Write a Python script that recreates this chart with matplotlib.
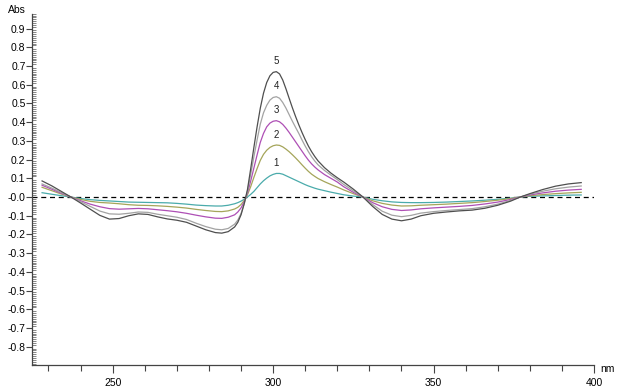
import numpy as np
import matplotlib
matplotlib.use("Agg")
import matplotlib.pyplot as plt
from matplotlib.ticker import MultipleLocator, FormatStrFormatter

plt.rcParams['font.family'] = ['Liberation Sans', 'DejaVu Sans']

# wavelengths (nm)
wl = [228, 231, 234, 237, 240, 243, 246, 249, 252, 255, 258, 261, 264, 267, 270, 273,
      276, 279, 282, 284, 286, 288,
      289, 290, 291, 292, 293, 294, 295, 296, 297, 298, 299, 300, 301, 302, 303, 304,
      305, 306, 307, 308, 309, 310, 311, 312, 313, 314,
      316, 318, 320, 322, 325, 328,
      331, 334, 337, 340, 343, 346,
      350, 354, 358, 362, 366, 370, 374, 377,
      380, 384, 388, 392, 396]

abs1 = [0.023, 0.015, 0.007, 0.000, -0.008, -0.014, -0.018, -0.021, -0.024, -0.027,
        -0.028, -0.029, -0.030, -0.031, -0.034, -0.038, -0.043, -0.046, -0.048, -0.048,
        -0.044, -0.036,
        -0.030, -0.022, -0.012, 0.000, 0.014, 0.030, 0.050, 0.070, 0.087, 0.101, 0.113,
        0.121, 0.126, 0.126, 0.122, 0.114, 0.106, 0.098, 0.090, 0.082, 0.074, 0.066,
        0.059, 0.053, 0.047, 0.042,
        0.034, 0.026, 0.019, 0.012, 0.005, 0.000,
        -0.012, -0.020, -0.026, -0.029, -0.030, -0.030,
        -0.029, -0.027, -0.024, -0.021, -0.017, -0.012, -0.006, 0.000,
        0.004, 0.006, 0.008, 0.010, 0.011]

abs2 = [0.052, 0.034, 0.016, 0.000, -0.013, -0.023, -0.029, -0.032, -0.036, -0.041,
        -0.044, -0.045, -0.047, -0.050, -0.054, -0.059, -0.066, -0.072, -0.077, -0.078,
        -0.074, -0.064,
        -0.055, -0.040, -0.018, 0.012, 0.055, 0.105, 0.152, 0.196, 0.228, 0.250, 0.265,
        0.274, 0.278, 0.276, 0.268, 0.256, 0.242, 0.226, 0.209, 0.191, 0.172, 0.154,
        0.137, 0.122, 0.110, 0.099,
        0.082, 0.067, 0.053, 0.038, 0.018, 0.000,
        -0.020, -0.034, -0.043, -0.048, -0.047, -0.044,
        -0.041, -0.038, -0.034, -0.030, -0.024, -0.017, -0.008, 0.000,
        0.007, 0.013, 0.018, 0.022, 0.025]

abs3 = [0.063, 0.042, 0.020, 0.000, -0.020, -0.038, -0.052, -0.062, -0.065, -0.063,
        -0.061, -0.063, -0.068, -0.073, -0.079, -0.087, -0.097, -0.106, -0.113, -0.114,
        -0.108, -0.095,
        -0.080, -0.058, -0.025, 0.020, 0.085, 0.155, 0.225, 0.292, 0.340, 0.375, 0.395,
        0.405, 0.408, 0.402, 0.388, 0.368, 0.345, 0.320, 0.295, 0.270, 0.245, 0.220,
        0.197, 0.177, 0.160, 0.145,
        0.120, 0.100, 0.080, 0.055, 0.025, 0.000,
        -0.030, -0.052, -0.066, -0.072, -0.069, -0.063,
        -0.058, -0.054, -0.050, -0.045, -0.037, -0.027, -0.013, 0.000,
        0.011, 0.022, 0.031, 0.037, 0.041]

abs4 = [0.070, 0.048, 0.024, 0.000, -0.025, -0.050, -0.075, -0.090, -0.092, -0.087,
        -0.080, -0.082, -0.092, -0.100, -0.108, -0.120, -0.140, -0.158, -0.172, -0.175,
        -0.168, -0.145,
        -0.123, -0.088, -0.035, 0.030, 0.120, 0.215, 0.305, 0.390, 0.450, 0.490, 0.518,
        0.532, 0.536, 0.528, 0.505, 0.475, 0.440, 0.405, 0.372, 0.340, 0.305, 0.272,
        0.242, 0.215, 0.192, 0.172,
        0.142, 0.117, 0.093, 0.067, 0.033, 0.000,
        -0.040, -0.076, -0.097, -0.105, -0.098, -0.086,
        -0.078, -0.072, -0.067, -0.062, -0.052, -0.038, -0.018, 0.000,
        0.015, 0.031, 0.044, 0.053, 0.059]

abs5 = [0.086, 0.060, 0.030, 0.000, -0.032, -0.065, -0.098, -0.118, -0.115, -0.100,
        -0.090, -0.093, -0.106, -0.117, -0.124, -0.135, -0.155, -0.175, -0.190, -0.193,
        -0.185, -0.160,
        -0.135, -0.095, -0.035, 0.040, 0.150, 0.265, 0.375, 0.475, 0.555, 0.612, 0.648,
        0.666, 0.670, 0.658, 0.625, 0.578, 0.527, 0.477, 0.430, 0.386, 0.345, 0.307,
        0.272, 0.242, 0.216, 0.193,
        0.157, 0.128, 0.103, 0.080, 0.042, 0.000,
        -0.050, -0.093, -0.118, -0.127, -0.118, -0.100,
        -0.087, -0.080, -0.074, -0.070, -0.060, -0.044, -0.022, 0.000,
        0.018, 0.040, 0.058, 0.070, 0.077]

series = [abs1, abs2, abs3, abs4, abs5]
labels = ['1', '2', '3', '4', '5']
colors = ['#4aabab', '#a5a55a', '#ae4fb5', '#a3a3a3', '#4f4f4f']

fig = plt.figure(figsize=(6.24, 3.90), dpi=100)
ax = fig.add_axes([0.052, 0.063, 0.900, 0.902])

ax.axhline(0, color='black', lw=0.9, ls=(0, (4, 3)), zorder=1)

for y, lab, c in zip(series, labels, colors):
    ax.plot(wl, y, color=c, lw=0.9, zorder=2, solid_joinstyle='round')
    i = int(np.argmax(y))
    ax.text(wl[i], y[i] + 0.055, lab, ha='center', va='center', fontsize=7, color='#222222')

ax.set_xlim(225, 400)
ax.set_ylim(-0.9, 0.98)

for s in ['top', 'right']:
    ax.spines[s].set_visible(False)
for s in ['left', 'bottom']:
    ax.spines[s].set_color('#444444')
    ax.spines[s].set_linewidth(0.9)

ax.xaxis.set_major_locator(MultipleLocator(50))
ax.xaxis.set_minor_locator(MultipleLocator(10))
ax.yaxis.set_major_locator(MultipleLocator(0.1))
ax.yaxis.set_minor_locator(MultipleLocator(0.01))
ax.yaxis.set_major_formatter(FormatStrFormatter('%.1f'))
ax.set_yticks(np.arange(-0.8, 0.91, 0.1))

ax.tick_params(axis='x', which='major', direction='out', length=6, width=0.8,
               color='#444444', labelsize=7.5, pad=3)
ax.tick_params(axis='x', which='minor', direction='out', length=4, width=0.8, color='#444444')
ax.tick_params(axis='y', which='major', direction='out', length=4, width=0.8,
               color='#444444', labelsize=7.5, pad=1)
ax.tick_params(axis='y', which='minor', direction='in', length=3, width=0.5, color='#555555')

ax.text(402, -0.89, 'nm', ha='left', va='top', fontsize=7.5, clip_on=False)
fig.text(0.013, 0.975, 'Abs', ha='left', va='center', fontsize=7.5)

fig.savefig('out.png', dpi=100)
